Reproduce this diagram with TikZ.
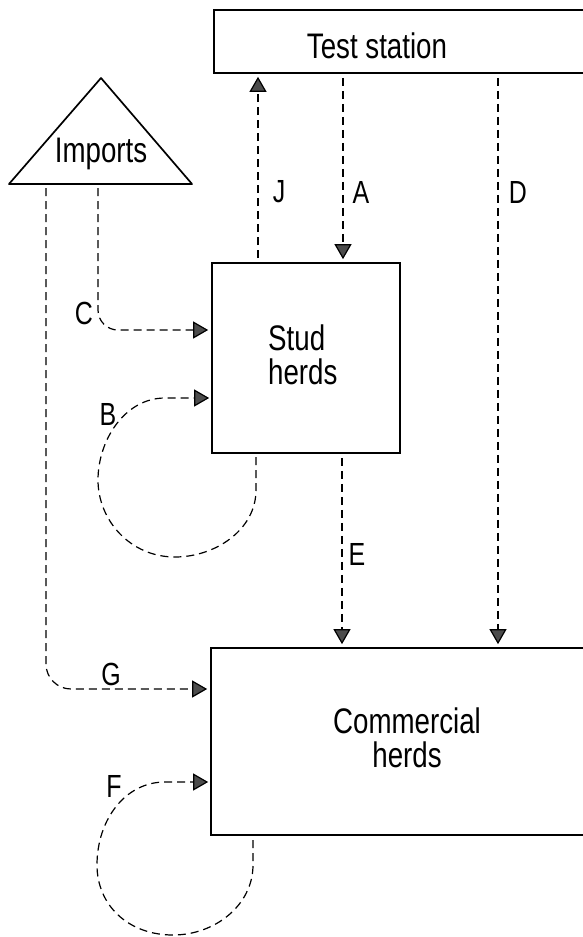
\documentclass[tikz,border=0pt]{standalone}
\usepackage{fontspec}
\setmainfont[FakeStretch=0.78]{Liberation Sans}
\usetikzlibrary{arrows.meta,calc}
\begin{document}
\begin{tikzpicture}[x=1pt,y=-1pt,
  box/.style={draw, line width=1.7pt, inner sep=0pt},
  txt/.style={inner sep=0pt, font=\fontsize{35.5}{34}\selectfont},
  lbl/.style={inner sep=0pt, font=\fontsize{32}{32}\selectfont},
  flow/.style={line width=1.2pt, dash pattern=on 8pt off 5pt,
    -{Triangle[length=15pt,width=17pt,fill=black!70]},
    shorten <=4pt, shorten >=3pt},
  loopflow/.style={line width=1.2pt, dash pattern=on 8pt off 5pt,
    -{Triangle[length=15pt,width=17pt,fill=black!70]},
    shorten >=2pt}]
\useasboundingbox (0,0) rectangle (583,937);
\clip (0,0) rectangle (583,937);

% boxes
\node[box, minimum width=386pt, minimum height=63pt] (test) at (407,41.5) {};
\node[box, minimum width=188pt, minimum height=190pt] (stud) at (306,358) {};
\node[box, minimum width=394pt, minimum height=187pt] (comm) at (408,741.5) {};

% imports triangle
\coordinate (impA) at (101,78);
\coordinate (impL) at (9,184);
\coordinate (impR) at (192,184);
\draw[line width=1.7pt, line join=round] (impA) -- (impL) -- (impR) -- cycle;

% texts
\node[txt, anchor=base] (testtxt) at (377,58) {Test station};
\node[txt, anchor=base] (imptxt) at (101,162) {Imports};
\node[txt, anchor=north west, align=left] (studtxt) at (268,325) {Stud\\herds};
\node[txt, align=center] (commtxt) at (407,737.5) {Commercial\\herds};

% straight flows
\draw[flow] (258,0 |- stud.north) -- (258,0 |- test.south);
\draw[flow] (343,0 |- test.south) -- (343,0 |- stud.north);
\draw[flow] (498,0 |- test.south) -- (498,0 |- comm.north);
\draw[flow] (342,0 |- stud.south) -- (342,0 |- comm.north);

% imports flows
\draw[flow, rounded corners=20pt] (98,0 |- impL) |- (stud.west |- 0,330);
\draw[flow, rounded corners=25pt] (46,0 |- impL) |- (comm.west |- 0,689);

% loops
\draw[loopflow] (256,457) -- (256,490)
  .. controls (256,530) and (215,557) .. (175,557)
  .. controls (130,557) and (98,520) .. (98,480)
  .. controls (98,440) and (125,398) .. (165,398)
  -- (stud.west |- 0,398);
\draw[loopflow] (253,840) -- (253,865)
  .. controls (253,905) and (215,935) .. (173,935)
  .. controls (128,935) and (97,905) .. (97,865)
  .. controls (97,820) and (125,782) .. (165,782)
  -- (comm.west |- 0,782);

% labels
\node[lbl] (lJ) at (279,192) {J};
\node[lbl] (lA) at (361,192) {A};
\node[lbl] (lD) at (518,192) {D};
\node[lbl] (lE) at (357,554) {E};
\node[lbl] (lC) at (84,313) {C};
\node[lbl] (lB) at (108,414) {B};
\node[lbl] (lG) at (111,674) {G};
\node[lbl] (lF) at (114,786) {F};
\end{tikzpicture}
\end{document}
